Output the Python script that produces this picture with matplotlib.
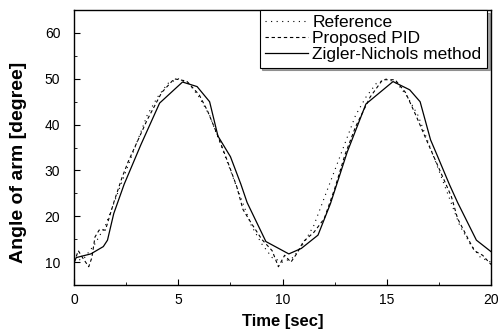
import matplotlib.pyplot as plt
from matplotlib.ticker import MultipleLocator

plt.rcParams['font.family'] = ['Liberation Sans', 'DejaVu Sans']

# reference trajectory (dotted)
ref_t = [0, 0.5, 1, 1.5, 2, 2.5, 3, 3.5, 4, 4.5, 5, 5.5, 6, 6.5, 7, 7.5, 8, 8.5, 9, 9.5,
         10, 10.5, 11, 11.5, 12, 12.5, 13, 13.5, 14, 14.5, 15, 15.5, 16, 16.5, 17, 17.5,
         18, 18.5, 19, 19.5, 20]
ref_y = [10, 11, 14, 18, 24, 30, 36, 42, 46, 49, 50, 49, 46, 42, 36, 30, 24, 18, 14, 11,
         10, 11, 14, 18, 24, 30, 36, 42, 46, 49, 50, 49, 46, 42, 36, 30, 24, 18, 14, 11, 10]

# proposed PID (dashed)
pid_t = [0, 0.2, 0.4, 0.7, 0.85, 1.0, 1.2, 1.5, 1.9, 2.3, 2.6, 3.0, 3.5, 4.2, 4.8, 5.4,
         6.0, 6.4, 6.9, 7.4, 7.8, 8.1, 8.5, 9.0, 9.5, 9.8, 10.1, 10.4, 10.7, 11.0, 11.5,
         12.0, 12.5, 13.0, 13.5, 14.2, 14.8, 15.4, 15.9, 16.4, 16.9, 17.5, 18.1, 18.4,
         18.8, 19.2, 19.6, 20]
pid_y = [10, 12.5, 11, 9, 11, 15.5, 17, 17, 23, 28.5, 32, 36, 41, 47, 50, 49.5,
         46.5, 43, 37.5, 31.5, 26.5, 21.5, 18.5, 15, 12.5, 9, 11.5, 10, 12, 14.5, 16.5,
         19.5, 26, 33.5, 39.5, 46, 49.8, 49.8, 47, 42, 36.7, 30.5, 24.3, 19.5,
         16, 12.5, 11.5, 9.5]

# Zigler-Nichols (solid)
zn_t = [0, 0.1, 0.8, 1.4, 1.6, 1.9, 2.4, 3.2, 4.1, 5.2, 5.9, 6.5, 6.9, 7.5, 8.0, 8.3,
        9.2, 10.3, 10.9, 11.7, 12.3, 13.1, 14.0, 15.3, 16.1, 16.6, 17.1, 17.4, 18.0,
        18.4, 19.3, 20]
zn_y = [10, 11, 11.8, 13.4, 14.8, 20.6, 27, 35.6, 44.7, 49.3, 48.3, 45, 37.5, 33, 27, 23,
        14.5, 11.8, 13, 15.9, 22.8, 34, 44.5, 49.4, 47.6, 45, 36.7, 33.5, 27,
        23, 14.8, 12.3]

fig = plt.figure(figsize=(5.01, 3.35), dpi=100)
ax = fig.add_axes([0.148, 0.149, 0.832, 0.821])

ax.plot(ref_t, ref_y, color='black', linestyle=(0, (1, 4)), linewidth=0.8, label='Reference')
ax.plot(pid_t, pid_y, color='black', linestyle=(0, (3, 2.5)), linewidth=0.8, label='Proposed PID')
ax.plot(zn_t, zn_y, color='black', linestyle='-', linewidth=0.9, label='Zigler-Nichols method')

ax.set_xlim(0, 20)
ax.set_ylim(5, 65)
ax.xaxis.set_major_locator(MultipleLocator(5))
ax.xaxis.set_minor_locator(MultipleLocator(2.5))
ax.yaxis.set_minor_locator(MultipleLocator(5))
ax.set_yticks([10, 20, 30, 40, 50, 60])
ax.tick_params(which='both', direction='in', labelsize=10)
ax.tick_params(which='major', length=4)
ax.tick_params(which='minor', length=2)
ax.tick_params(axis='y', pad=10)
ax.tick_params(axis='x', pad=6)
for s in ax.spines.values():
    s.set_linewidth(1.0)

ax.set_xlabel('Time [sec]', fontsize=12, fontweight='bold', labelpad=5)
ax.set_ylabel('Angle of arm [degree]', fontsize=14, fontweight='bold')
ax.yaxis.set_label_coords(-0.112, 0.447)

leg = ax.legend(loc='upper right', bbox_to_anchor=(0.99, 1.0), fontsize=12.5, frameon=True,
                fancybox=False, shadow=True, handlelength=2.5, handletextpad=0.25,
                borderpad=0.3, labelspacing=0.05, borderaxespad=0)
leg.get_frame().set_edgecolor('black')
leg.get_frame().set_linewidth(0.8)

fig.savefig('out.png', dpi=100)
